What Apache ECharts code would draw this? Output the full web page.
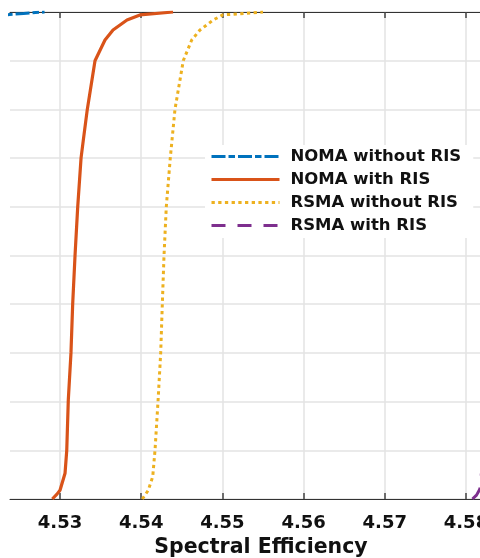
<!DOCTYPE html>
<html>
<head>
<meta charset="utf-8">
<script src="https://cdn.jsdelivr.net/npm/echarts@6/dist/echarts.min.js"></script>
<style>
html,body{margin:0;padding:0;background:#fff;}
#chart{width:480px;height:558px;}
</style>
</head>
<body>
<div id="chart"></div>
<script>
// Tick labels on the x axis
const xTicks = [4.53, 4.54, 4.55, 4.56, 4.57, 4.58];
const seriesNames = ['NOMA without RIS', 'NOMA with RIS', 'RSMA without RIS', 'RSMA with RIS'];

// NOMA without RIS (only its top end is inside the view)
const nomaNoRisX = [4.5150, 4.5180, 4.5210, 4.5238, 4.5255, 4.5270, 4.5281];
const nomaNoRisY = [0.960, 0.975, 0.988, 0.995, 0.997, 0.999, 1.000];

// NOMA with RIS
const nomaRisX = [4.52905, 4.52963, 4.53000, 4.53062, 4.53083, 4.53102, 4.53135, 4.53156, 4.53185, 4.53218, 4.53259, 4.53287, 4.53336, 4.53431, 4.53554, 4.53653, 4.53825, 4.53985, 4.54392];
const nomaRisY = [0.000, 0.010, 0.018, 0.053, 0.100, 0.203, 0.300, 0.400, 0.500, 0.600, 0.700, 0.737, 0.800, 0.900, 0.9425, 0.963, 0.9836, 0.994, 1.000];

// RSMA without RIS
const rsmaNoRisX = [4.54013, 4.54047, 4.54087, 4.54142, 4.54170, 4.54207, 4.54240, 4.54260, 4.54281, 4.54309, 4.54358, 4.54416, 4.54518, 4.54622, 4.54724, 4.54888, 4.55004, 4.55500];
const rsmaNoRisY = [0.000, 0.008, 0.018, 0.046, 0.100, 0.200, 0.300, 0.400, 0.500, 0.600, 0.700, 0.800, 0.900, 0.9425, 0.963, 0.9836, 0.994, 1.000];

// RSMA with RIS (only its bottom start is inside the view)
const rsmaRisX = [4.5808, 4.5813, 4.5817, 4.5822, 4.5828, 4.5835, 4.5843, 4.5856];
const rsmaRisY = [0.000, 0.008, 0.020, 0.100, 0.300, 0.600, 0.900, 1.000];

const xMin = 4.52384, xMax = 4.58567;

function pairs(xs, ys) { return xs.map((x, i) => [x, ys[i]]); }

const chart = echarts.init(document.getElementById('chart'), null, {renderer: 'canvas'});

const colors = ['#0072BD', '#D95319', '#EDB120', '#7E2F8E'];
const lineTypes = [[14, 3, 6.5, 3], 'solid', [3.3, 3.4], [14, 12]];
const dataSets = [
  pairs(nomaNoRisX, nomaNoRisY),
  pairs(nomaRisX, nomaRisY),
  pairs(rsmaNoRisX, rsmaNoRisY),
  pairs(rsmaRisX, rsmaRisY)
];

const option = {
  animation: false,
  backgroundColor: '#ffffff',
  grid: {left: 10, right: -32, top: 12, bottom: 59, containLabel: false, outerBoundsMode: 'none'},
  xAxis: [{
    type: 'value',
    position: 'bottom',
    min: xMin, max: xMax,
    name: 'Spectral Efficiency',
    nameLocation: 'middle',
    nameGap: 38,
    nameTextStyle: {fontFamily: 'DejaVu Sans', fontWeight: 'bold', fontSize: 20.5, color: '#111'},
    axisLine: {show: true, lineStyle: {color: '#333', width: 1}},
    axisTick: {show: true, inside: true, length: 6, customValues: xTicks, lineStyle: {color: '#444', width: 1.5}},
    axisLabel: {show: true, customValues: xTicks, margin: 15, fontFamily: 'DejaVu Sans', fontWeight: 'bold', fontSize: 18, color: '#111',
      formatter: v => v.toFixed(2)},
    splitLine: {show: true, lineStyle: {color: '#e3e3e3', width: 1.5}}
  }, {
    type: 'value',
    position: 'top',
    min: xMin, max: xMax,
    axisLine: {show: true, onZero: false, lineStyle: {color: '#333', width: 1}},
    axisTick: {show: true, inside: true, length: 6, customValues: xTicks, lineStyle: {color: '#444', width: 1.5}},
    axisLabel: {show: false},
    splitLine: {show: false}
  }],
  yAxis: {
    type: 'value',
    min: 0, max: 1, interval: 0.1,
    axisLine: {show: false},
    axisTick: {show: false},
    axisLabel: {show: false},
    splitLine: {show: true, lineStyle: {color: '#e3e3e3', width: 1.5}}
  },
  legend: {
    show: true,
    orient: 'vertical',
    left: 205, top: 145,
    padding: [3, 12, 4, 5],
    backgroundColor: '#ffffff',
    itemWidth: 68, itemHeight: 16, itemGap: 6,
    itemStyle: {opacity: 0},
    lineStyle: {width: 3},
    textStyle: {fontFamily: 'DejaVu Sans', fontWeight: 'bold', fontSize: 16.5, color: '#111', padding: [0, 0, 0, 6]},
    data: seriesNames
  },
  series: seriesNames.map((name, i) => ({
    name: name,
    type: 'line',
    data: dataSets[i],
    symbol: 'none',
    showSymbol: false,
    smooth: false,
    clip: true,
    z: 3,
    lineStyle: {color: colors[i], width: i === 1 ? 3.2 : 3, type: lineTypes[i], cap: 'butt'},
    itemStyle: {color: colors[i]}
  }))
};
chart.setOption(option);
</script>
</body>
</html>
